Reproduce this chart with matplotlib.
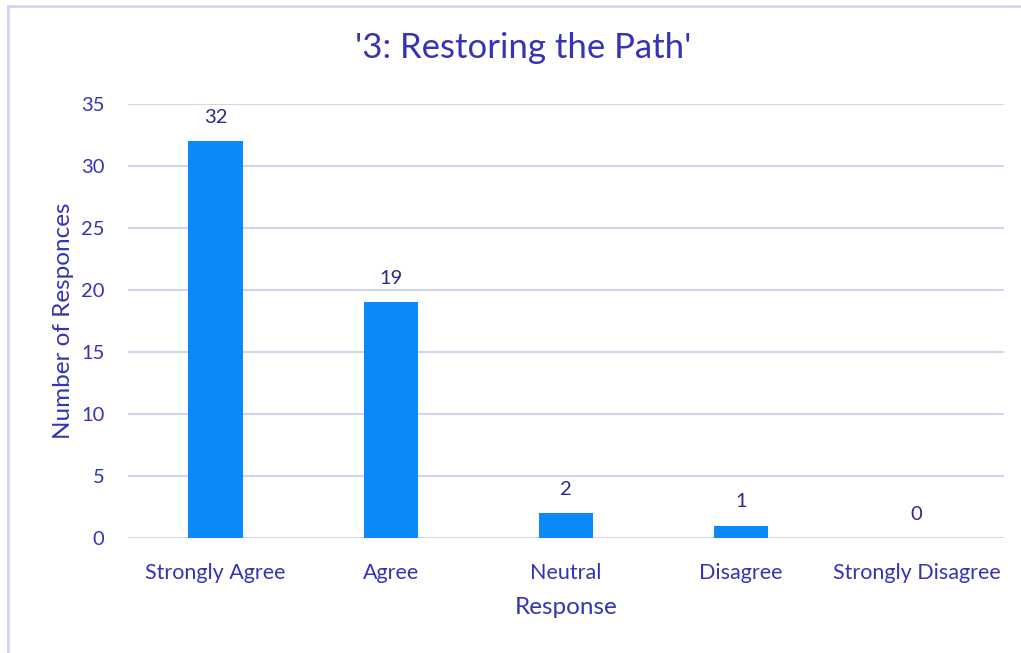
import matplotlib
matplotlib.use("Agg")
import matplotlib.pyplot as plt
from matplotlib.patches import Rectangle

categories = ["Strongly Agree", "Agree", "Neutral", "Disagree", "Strongly Disagree"]
values = [32, 19, 2, 1, 0]
yticks = [0, 5, 10, 15, 20, 25, 30, 35]
title = "'3: Restoring the Path'"

TXT = "#3434B4"
BAR = "#0A8AF8"
GRID = "#D4D4F2"

plt.rcParams['font.family'] = ['Lato', 'DejaVu Sans']

fig = plt.figure(figsize=(10.21, 6.53), dpi=100)
ax = fig.add_axes([128/1021, 1-538/653, (1004-128)/1021, (538-104)/653])

x = list(range(len(categories)))
bars = ax.bar(x, values, width=0.31, color=BAR, zorder=3)
ax.set_xlim(-0.5, len(categories)-0.5)
ax.set_ylim(0, 35)
ax.set_yticks(yticks)
ax.set_xticks(x)
ax.set_xticklabels(categories)
ax.tick_params(axis='y', length=0, colors=TXT, labelsize=14.5, pad=17)
ax.tick_params(axis='x', length=0, colors=TXT, labelsize=15.5, pad=18)
for s in ax.spines.values():
    s.set_visible(False)
ax.grid(axis='y', color=GRID, linewidth=1.5, zorder=0)
ax.set_axisbelow(True)

for xi, v in zip(x, values):
    ax.annotate(str(v), (xi, v), xytext=(0, 11), textcoords='offset points',
                ha='center', va='bottom', color="#2A2A90", fontsize=14.5)

ax.set_ylabel("Number of Responces", color=TXT, fontsize=17.5, labelpad=5)
ax.set_xlabel("Response", color=TXT, fontsize=17.5, labelpad=10)
fig.text(523/1021, 1-48/653, title, ha='center', va='center', color=TXT, fontsize=25)

fig.patches.append(Rectangle((8/1021, -0.1), 1.2, 1-6/653+0.1, transform=fig.transFigure,
                             fill=False, edgecolor=GRID, linewidth=2))

fig.savefig("out.png", dpi=100)
